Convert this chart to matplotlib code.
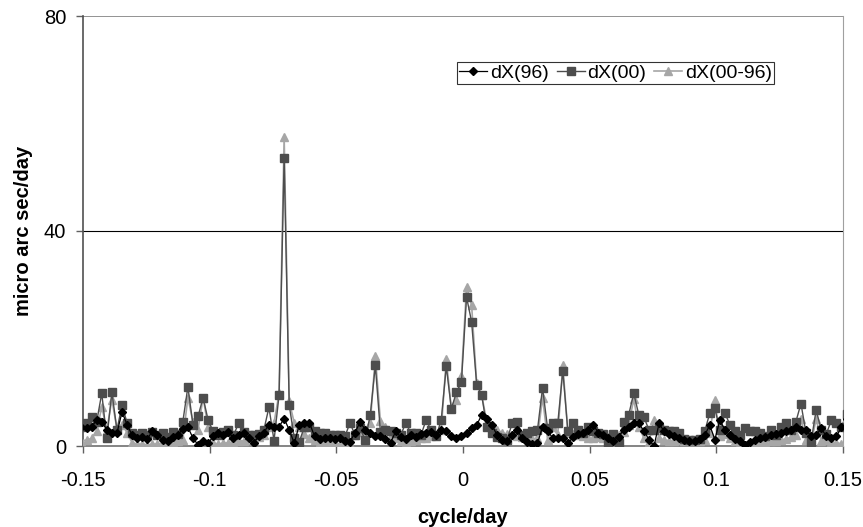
import numpy as np
import matplotlib
matplotlib.use("Agg")
import matplotlib.pyplot as plt

plt.rcParams['font.family'] = ['Liberation Sans', 'DejaVu Sans']

# frequency grid (cycle/day), one sample every 0.002
freq = np.round(-0.1506 + 0.002 * np.arange(152), 4)

# dX(96)
dx96 = [3.5,
        3.3, 3.6, 4.8, 4.5, 3.0, 2.5, 2.4, 6.3, 4.0, 2.0,
        1.5, 1.6, 1.3, 2.8, 2.0, 1.2, 1.0, 1.6, 2.0, 3.2,
        3.5, 1.5, 0.2, 1.0, 0.5, 1.8, 2.5, 2.0, 2.6, 1.5,
        2.0, 2.4, 1.4, 0.6, 1.8, 2.5, 4.0, 3.5, 3.6, 5.1,
        3.0, 0.5, 4.0, 4.3, 4.3, 1.8, 1.3, 1.5, 1.4, 1.3,
        1.5, 1.0, 0.8, 2.5, 4.5, 3.0, 2.5, 1.8, 1.8, 1.3,
        0.6, 2.7, 1.7, 1.3, 2.0, 1.6, 2.2, 2.4, 2.6, 2.0,
        3.0, 2.8, 1.8, 1.5, 1.8, 2.4, 3.3, 3.9, 5.8, 5.1,
        4.0, 2.0, 1.2, 1.0, 2.0, 2.9, 1.5, 0.8, 0.4, 0.5,
        3.6, 2.8, 1.5, 1.4, 1.5, 0.5, 1.6, 2.2, 2.4, 3.0,
        3.9, 2.5, 2.0, 1.5, 1.0, 1.7, 3.0, 3.5, 4.2, 4.2,
        2.8, 1.2, 0.0, 4.2, 2.7, 2.2, 1.8, 1.5, 1.2, 1.0,
        0.9, 1.3, 2.0, 3.9, 1.2, 4.8, 3.0, 2.0, 1.3, 1.0,
        0.2, 0.8, 1.2, 1.5, 1.7, 2.0, 2.2, 2.5, 2.7, 3.0,
        3.6, 3.0, 3.0, 1.8, 2.0, 3.3, 1.8, 1.5, 1.8, 3.5,
        5.0]

# dX(00)
dx00 = [3.5,
        4.2, 5.4, 4.5, 9.8, 1.4, 10.0, 3.0, 7.6, 4.3, 2.4,
        2.0, 2.4, 2.0, 2.6, 2.0, 2.4, 1.7, 2.6, 2.2, 4.5,
        11.0, 4.0, 5.5, 9.0, 4.8, 2.7, 2.0, 2.6, 3.0, 2.0,
        4.2, 2.6, 2.0, 2.0, 2.2, 3.0, 7.2, 1.0, 9.5, 53.5,
        7.6, 1.5, 0.8, 3.6, 3.6, 2.7, 2.4, 2.4, 2.0, 2.0,
        2.0, 1.8, 4.3, 2.0, 3.3, 1.1, 5.8, 15.0, 2.6, 3.0,
        2.7, 2.4, 2.0, 4.3, 2.4, 2.4, 2.0, 4.8, 3.0, 1.8,
        4.8, 14.8, 6.9, 10.0, 12.0, 27.7, 23.1, 11.4, 9.4, 3.5,
        2.5, 1.7, 1.4, 1.2, 4.2, 4.5, 2.0, 2.5, 2.7, 3.0,
        10.8, 3.3, 4.2, 4.2, 14.0, 2.7, 4.2, 3.0, 2.4, 3.6,
        2.7, 2.4, 2.2, 0.6, 2.2, 0.5, 4.5, 5.8, 9.8, 5.8,
        5.4, 3.0, 3.0, 3.3, 3.0, 2.7, 2.7, 2.4, 1.3, 1.1,
        1.1, 1.3, 2.7, 6.1, 7.0, 3.0, 6.1, 3.9, 2.7, 2.0,
        3.3, 2.7, 2.7, 2.4, 1.8, 3.0, 2.0, 3.6, 4.2, 3.0,
        4.5, 7.9, 2.4, 0.8, 6.7, 3.0, 2.2, 4.8, 4.2, 3.5,
        6.0]

# dX(00-96)
dx0096 = [1.0,
          1.1, 1.4, 2.7, 7.3, 3.0, 8.6, 3.2, 4.0, 2.5, 0.6,
          0.3, 0.3, 0.2, 0.3, 0.4, 0.5, 0.6, 0.8, 1.0, 1.2,
          9.0, 4.5, 3.0, 9.0, 3.5, 0.5, 0.4, 0.5, 0.6, 0.8,
          0.9, 1.0, 1.2, 1.4, 1.6, 2.0, 3.5, 4.3, 9.8, 57.5,
          8.3, 4.3, 3.5, 2.2, 1.5, 1.1, 0.8, 0.7, 0.6, 0.5,
          0.4, 0.3, 0.3, 2.0, 2.6, 3.0, 4.3, 16.7, 4.6, 3.5,
          1.5, 1.4, 1.0, 0.8, 0.9, 1.2, 1.5, 1.5, 1.8, 2.2,
          3.0, 16.1, 7.0, 8.5, 13.0, 29.6, 26.2, 11.7, 9.4, 4.5,
          3.8, 3.0, 2.5, 2.2, 2.0, 1.8, 1.6, 1.4, 1.3, 1.5,
          9.0, 1.2, 3.5, 2.0, 15.0, 2.5, 2.2, 2.0, 1.8, 1.5,
          1.4, 1.6, 1.5, 1.6, 1.8, 2.0, 2.6, 4.0, 8.7, 3.5,
          1.5, 0.8, 4.8, 1.5, 1.1, 1.0, 1.0, 1.1, 1.0, 0.9,
          1.0, 1.0, 1.2, 2.5, 8.5, 1.8, 2.2, 1.4, 1.0, 0.6,
          0.2, 0.5, 0.6, 0.7, 0.8, 0.9, 1.0, 1.1, 1.3, 1.6,
          2.0, 5.1, 1.2, 0.3, 5.1, 1.0, 1.2, 0.8, 0.6, 0.4,
          0.5]

fig = plt.figure(figsize=(8.63, 5.27), dpi=100)
ax = fig.add_axes([83 / 863, 81 / 527, 760 / 863, 430 / 527])

ax.plot(freq, dx0096, color='#a6a6a6', lw=1.2, marker='^', ms=6,
        mec='#a6a6a6', mfc='#a6a6a6', label='dX(00-96)', zorder=3)
ax.plot(freq, dx00, color='#4d4d4d', lw=1.0, marker='s', ms=5.3,
        mec='#4d4d4d', mfc='#4d4d4d', label='dX(00)', zorder=4)
ax.plot(freq, dx96, color='black', lw=0.9, marker='D', ms=3.7,
        mec='black', mfc='black', label='dX(96)', zorder=5)

ax.set_xlim(-0.15, 0.15)
ax.set_ylim(0, 80)
ax.set_xticks([-0.15, -0.1, -0.05, 0, 0.05, 0.1, 0.15])
ax.set_xticklabels(['-0.15', '-0.1', '-0.05', '0', '0.05', '0.1', '0.15'])
ax.set_yticks([0, 40, 80])
ax.axhline(40, color='black', lw=0.8, zorder=1)
ax.axhline(80, color='#808080', lw=1.2, zorder=1)

ax.spines['top'].set_visible(False)
ax.spines['right'].set_color('#a0a0a0')
ax.spines['left'].set_color('#505050')
ax.spines['bottom'].set_color('#707070')
ax.spines['left'].set_linewidth(1.2)
ax.spines['bottom'].set_linewidth(1.2)
ax.tick_params(axis='both', direction='out', length=5, width=1,
               color='#606060', labelsize=14.5)
ax.tick_params(axis='y', pad=7)
ax.tick_params(axis='x', pad=13)

ax.set_xlabel('cycle/day', fontsize=14.5, fontweight='bold', labelpad=13)
ax.set_ylabel('micro arc sec/day', fontsize=14.5, fontweight='bold', labelpad=8)

handles, labels = ax.get_legend_handles_labels()
order = [2, 1, 0]
leg = ax.legend([handles[k] for k in order], [labels[k] for k in order],
                ncol=3, loc='upper left', bbox_to_anchor=(0.492, 0.893),
                fontsize=14, frameon=True, fancybox=False,
                handlelength=1.45, handletextpad=0.15, columnspacing=0.4,
                borderpad=0.1, borderaxespad=0)
leg.get_frame().set_edgecolor('black')
leg.get_frame().set_linewidth(0.8)

fig.savefig('out.png', dpi=100)
